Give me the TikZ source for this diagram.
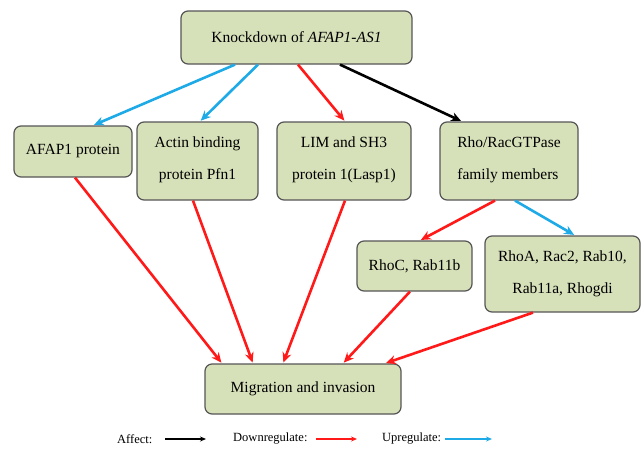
\documentclass[tikz,border=0pt]{standalone}
\usepackage{fontspec}
\setmainfont{Liberation Serif}
\usetikzlibrary{arrows.meta}
\definecolor{boxfill}{RGB}{214,224,185}
\definecolor{boxline}{RGB}{85,85,85}
\definecolor{dred}{RGB}{255,25,25}
\definecolor{ublue}{RGB}{30,170,230}
\begin{document}
\begin{tikzpicture}[x=1pt,y=-1pt,
  gbox/.style={draw=boxline,line width=1.2pt,fill=boxfill,rounded corners=7pt,inner sep=0pt,font=\fontsize{15.5}{32}\selectfont},
  arr/.style={line width=2.6pt,-{Stealth[length=10pt,width=9pt]},shorten >=1pt},
  larr/.style={line width=1.2pt,-{Stealth[length=6pt,width=5pt]}},
  legtext/.style={font=\fontsize{12.5}{15}\selectfont,inner sep=0pt,anchor=west}]
\useasboundingbox (0,0) rectangle (641,451);
\node[gbox,minimum width=231pt,minimum height=53pt] (top) at (296.5,37.5) {Knockdown of \textit{AFAP1-AS1}};
\node[gbox,minimum width=118pt,minimum height=51pt] (afap) at (73,151.5) {AFAP1 protein};
\node[gbox,minimum width=121pt,minimum height=78pt,align=center,text depth=6pt] (actin) at (197.5,161) {Actin binding\\protein Pfn1};
\node[gbox,minimum width=134pt,minimum height=78pt,align=center,text depth=6pt] (lim) at (344,161) {LIM and SH3\\protein 1(Lasp1)};
\node[gbox,minimum width=138pt,minimum height=78pt,align=left,text depth=6pt] (rho) at (509,161) {Rho/RacGTPase\\family members};
\node[gbox,minimum width=115pt,minimum height=50pt] (rhoc) at (414.5,266) {RhoC, Rab11b};
\node[gbox,minimum width=155pt,minimum height=76pt,align=center] (rhoa) at (562.5,274) {RhoA, Rac2, Rab10,\\Rab11a, Rhogdi};
\node[gbox,minimum width=196pt,minimum height=50pt] (mig) at (303,389) {Migration and invasion};
% top arrows
\draw[arr,ublue] ([xshift=-61.5pt]top.south) -- ([xshift=20pt]afap.north);
\draw[arr,ublue] ([xshift=-38.5pt]top.south) -- ([xshift=2.5pt]actin.north);
\draw[arr,dred] ([xshift=1.5pt]top.south) -- ([xshift=1pt]lim.north);
\draw[arr,black] ([xshift=43.5pt]top.south) -- ([xshift=-47pt]rho.north);
\draw[arr,dred] ([xshift=-14pt]rho.south) -- ([xshift=5.5pt]rhoc.north);
\draw[arr,ublue] ([xshift=6pt]rho.south) -- ([xshift=12.5pt]rhoa.north);
% to migration
\draw[arr,dred] ([xshift=2pt]afap.south) -- ([xshift=-81pt]mig.north);
\draw[arr,dred] ([xshift=-4.5pt]actin.south) -- ([xshift=-50pt]mig.north);
\draw[arr,dred] ([xshift=1pt]lim.south) -- ([xshift=-20pt]mig.north);
\draw[arr,dred] ([xshift=-4.5pt]rhoc.south) -- ([xshift=40pt]mig.north);
\draw[arr,dred] ([xshift=-29.5pt]rhoa.south) -- ([xshift=82pt]mig.north);
% legend
\node[legtext] (la) at (117,439) {Affect:};
\coordinate (la1) at (165,439); \coordinate (la2) at (206,439);
\draw[larr,black] (la1) -- (la2);
\node[legtext] (ld) at (233,439) {Downregulate:};
\coordinate (ld1) at (316,439); \coordinate (ld2) at (357,439);
\draw[larr,dred] (ld1) -- (ld2);
\node[legtext] (lu) at (382,439) {Upregulate:};
\coordinate (lu1) at (445,439); \coordinate (lu2) at (492,439);
\draw[larr,ublue] (lu1) -- (lu2);
\end{tikzpicture}
\end{document}
